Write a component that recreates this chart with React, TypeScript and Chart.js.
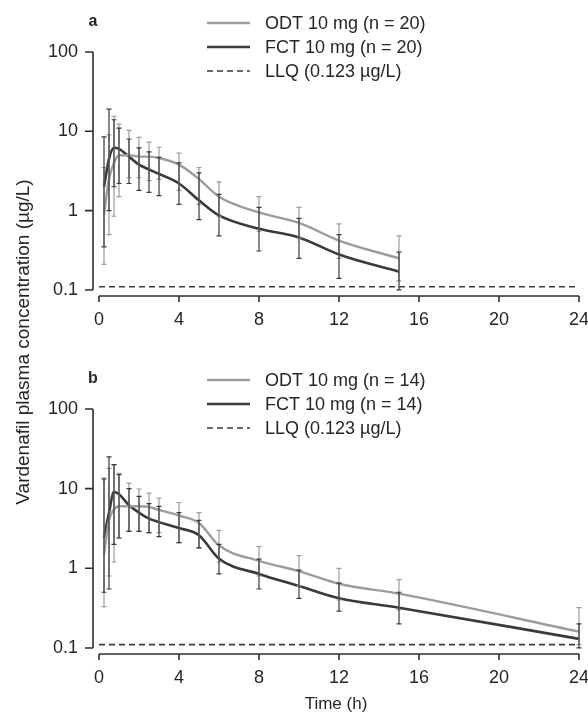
import React, { useEffect, useRef } from "react";
import { Chart, registerables } from "chart.js";

Chart.register(...registerables);

// ---------- data ----------
const X_TICKS = [0, 4, 8, 12, 16, 20, 24];
const Y_TICKS = [0.1, 1, 10, 100];
const LLQ_LEVEL = 0.11;

// Panel a (n = 20)
const TIMES_A = [0.25, 0.5, 0.75, 1, 1.5, 2, 2.5, 3, 4, 5, 6, 8, 10, 12, 15];
const ODT_A_MEAN = [0.9, 2.5, 4.0, 5.0, 5.0, 4.8, 4.8, 4.6, 3.8, 2.5, 1.5, 0.95, 0.7, 0.42, 0.25];
const ODT_A_LO = [0.21, 0.5, 0.85, 1.5, 2.6, 2.6, 2.4, 2.5, 1.8, 1.2, 0.85, 0.55, 0.45, 0.25, 0.13];
const ODT_A_HI = [3.5, 9.0, 15.5, 12.3, 10.3, 8.4, 7.3, 6.3, 5.3, 3.5, 2.3, 1.5, 1.1, 0.68, 0.48];
const FCT_A_MEAN = [2.0, 4.5, 6.2, 6.0, 4.8, 3.8, 3.3, 2.9, 2.2, 1.35, 0.87, 0.59, 0.46, 0.28, 0.17];
const FCT_A_LO = [0.35, 1.0, 2.0, 2.2, 2.2, 1.8, 1.7, 1.55, 1.2, 0.77, 0.48, 0.31, 0.25, 0.14, 0.1];
const FCT_A_HI = [8.5, 19.0, 14.0, 11.0, 8.0, 6.2, 5.5, 4.7, 4.0, 3.0, 1.6, 1.1, 0.8, 0.5, 0.3];

// Panel b (n = 14)
const TIMES_B = [0.25, 0.5, 0.75, 1, 1.5, 2, 2.5, 3, 4, 5, 6, 8, 10, 12, 15, 24];
const ODT_B_MEAN = [1.5, 4.0, 5.5, 6.0, 6.0, 6.0, 5.9, 5.4, 4.6, 3.7, 1.93, 1.24, 0.92, 0.64, 0.48, 0.16];
const ODT_B_LO = [0.33, 0.8, 1.2, 2.4, 2.9, 2.9, 2.8, 2.8, 2.1, 1.8, 1.2, 0.8, 0.6, 0.4, 0.3, 0.11];
const ODT_B_HI = [13.0, 18.0, 20.0, 15.6, 11.7, 9.9, 8.8, 7.6, 6.7, 5.0, 3.0, 1.87, 1.44, 1.0, 0.72, 0.32];
const FCT_B_MEAN = [2.4, 5.0, 9.1, 8.5, 6.2, 5.0, 4.2, 3.8, 3.2, 2.6, 1.32, 0.85, 0.6, 0.42, 0.32, 0.13];
const FCT_B_LO = [0.5, 0.55, 2.0, 2.4, 2.9, 2.9, 2.8, 2.5, 2.1, 1.8, 0.85, 0.55, 0.42, 0.29, 0.2, 0.1];
const FCT_B_HI = [13.5, 25.0, 20.0, 15.0, 10.0, 8.0, 6.5, 6.0, 5.0, 4.0, 2.0, 1.3, 0.95, 0.65, 0.5, 0.2];

const LABELS_A = ["ODT 10 mg (n = 20)", "FCT 10 mg (n = 20)", "LLQ (0.123 µg/L)"];
const LABELS_B = ["ODT 10 mg (n = 14)", "FCT 10 mg (n = 14)", "LLQ (0.123 µg/L)"];

// ---------- styles ----------
const FONT = '"Liberation Sans", Arial, Helvetica, sans-serif';
const LIGHT = "#9c9c9c";
const DARK = "#3a3a3a";
const AXIS = "#2e2e2e";
const TEXT = "#262626";
const Y_MIN = Math.pow(10, -1.076);

Chart.defaults.font.family = FONT;
Chart.defaults.color = TEXT;

const axesPlugin = {
  id: "pkAxes",
  beforeDatasetsDraw(chart: any) {
    const { ctx, chartArea, scales } = chart;
    const x = scales.x;
    const y = scales.y;
    ctx.save();
    ctx.strokeStyle = AXIS;
    ctx.lineWidth = 1.6;
    ctx.beginPath();
    const left = chartArea.left;
    ctx.moveTo(left, y.getPixelForValue(Y_TICKS[0]));
    ctx.lineTo(left, y.getPixelForValue(Y_TICKS[Y_TICKS.length - 1]));
    Y_TICKS.forEach((v) => {
      const py = y.getPixelForValue(v);
      ctx.moveTo(left - 8, py);
      ctx.lineTo(left, py);
    });
    const b = chartArea.bottom;
    ctx.moveTo(x.getPixelForValue(X_TICKS[0]), b);
    ctx.lineTo(x.getPixelForValue(X_TICKS[X_TICKS.length - 1]), b);
    X_TICKS.forEach((v) => {
      const px = x.getPixelForValue(v);
      ctx.moveTo(px, b);
      ctx.lineTo(px, b + 6);
    });
    ctx.stroke();
    ctx.restore();
  },
};

const errorBarPlugin = {
  id: "pkErrorBars",
  afterDatasetsDraw(chart: any) {
    const { ctx, scales } = chart;
    const x = scales.x;
    const y = scales.y;
    ctx.save();
    chart.data.datasets.forEach((ds: any) => {
      if (!ds.errLo) return;
      ctx.strokeStyle = ds.borderColor;
      ctx.lineWidth = 1.2;
      ctx.beginPath();
      ds.times.forEach((t: number, i: number) => {
        const px = x.getPixelForValue(t);
        const yl = y.getPixelForValue(ds.errLo[i]);
        const yh = y.getPixelForValue(ds.errHi[i]);
        ctx.moveTo(px, yl);
        ctx.lineTo(px, yh);
        ctx.moveTo(px - 2.5, yl);
        ctx.lineTo(px + 2.5, yl);
        ctx.moveTo(px - 2.5, yh);
        ctx.lineTo(px + 2.5, yh);
      });
      ctx.stroke();
    });
    ctx.restore();
  },
};

const legendPlugin = {
  id: "pkLegend",
  afterDraw(chart: any) {
    const { ctx } = chart;
    const rows = [23, 47, 71];
    ctx.save();
    chart.data.datasets.forEach((ds: any, i: number) => {
      const yy = rows[i];
      ctx.strokeStyle = ds.borderColor;
      ctx.lineWidth = ds.borderDash && ds.borderDash.length ? 1.4 : ds.borderWidth;
      ctx.setLineDash(ds.borderDash || []);
      ctx.beginPath();
      ctx.moveTo(207, yy);
      ctx.lineTo(250, yy);
      ctx.stroke();
      ctx.setLineDash([]);
      ctx.fillStyle = TEXT;
      ctx.font = `18px ${FONT}`;
      ctx.textAlign = "left";
      ctx.textBaseline = "middle";
      ctx.fillText(ds.label, 265, yy + 1);
    });
    ctx.font = `bold 16px ${FONT}`;
    ctx.textAlign = "center";
    ctx.textBaseline = "middle";
    ctx.fillStyle = TEXT;
    ctx.fillText(chart.options.plugins.panelLetter, chart.chartArea.left, 22);
    ctx.restore();
  },
};

type PanelData = {
  letter: string;
  times: number[];
  odtMean: number[];
  odtLo: number[];
  odtHi: number[];
  fctMean: number[];
  fctLo: number[];
  fctHi: number[];
  labels: string[];
  xHeight: number;
  showXTitle: boolean;
};

const PANEL_A: PanelData = {
  letter: "a",
  times: TIMES_A,
  odtMean: ODT_A_MEAN,
  odtLo: ODT_A_LO,
  odtHi: ODT_A_HI,
  fctMean: FCT_A_MEAN,
  fctLo: FCT_A_LO,
  fctHi: FCT_A_HI,
  labels: LABELS_A,
  xHeight: 61,
  showXTitle: false,
};

const PANEL_B: PanelData = {
  letter: "b",
  times: TIMES_B,
  odtMean: ODT_B_MEAN,
  odtLo: ODT_B_LO,
  odtHi: ODT_B_HI,
  fctMean: FCT_B_MEAN,
  fctLo: FCT_B_LO,
  fctHi: FCT_B_HI,
  labels: LABELS_B,
  xHeight: 60,
  showXTitle: true,
};

function buildConfig(p: PanelData): any {
  const pts = (vals: number[]) => p.times.map((t, i) => ({ x: t, y: vals[i] }));
  return {
    type: "line",
    data: {
      datasets: [
        {
          label: p.labels[0],
          data: pts(p.odtMean),
          borderColor: LIGHT,
          borderWidth: 2.4,
          pointRadius: 0,
          cubicInterpolationMode: "monotone",
          times: p.times,
          errLo: p.odtLo,
          errHi: p.odtHi,
        },
        {
          label: p.labels[1],
          data: pts(p.fctMean),
          borderColor: DARK,
          borderWidth: 2.6,
          pointRadius: 0,
          cubicInterpolationMode: "monotone",
          times: p.times,
          errLo: p.fctLo,
          errHi: p.fctHi,
        },
        {
          label: p.labels[2],
          data: [
            { x: X_TICKS[0], y: LLQ_LEVEL },
            { x: X_TICKS[X_TICKS.length - 1], y: LLQ_LEVEL },
          ],
          borderColor: DARK,
          borderWidth: 1.6,
          borderDash: [6, 4],
          pointRadius: 0,
        },
      ],
    },
    options: {
      animation: false,
      responsive: false,
      devicePixelRatio: 1,
      layout: { padding: { top: 52, right: 9, left: 0, bottom: 0 } },
      plugins: {
        legend: { display: false },
        tooltip: { enabled: false },
        panelLetter: p.letter,
      },
      scales: {
        x: {
          type: "linear",
          min: -0.3,
          max: 24,
          bounds: "data",
          grid: { display: false, drawTicks: false },
          border: { display: false },
          afterBuildTicks: (s: any) => {
            s.ticks = X_TICKS.map((v) => ({ value: v }));
          },
          afterFit: (s: any) => {
            s.height = p.xHeight;
            s.paddingLeft = 0;
            s.paddingRight = 0;
          },
          ticks: {
            padding: 13,
            font: { size: 18 },
            color: TEXT,
            maxRotation: 0,
            autoSkip: false,
            callback: (v: any) => String(v),
          },
          title: {
            display: p.showXTitle,
            text: "Time (h)",
            font: { size: 17, lineHeight: 1.1 },
            color: TEXT,
            padding: { top: 0, bottom: 0 },
          },
        },
        y: {
          type: "logarithmic",
          min: Y_MIN,
          max: 100,
          bounds: "data",
          grid: { display: false, drawTicks: false },
          border: { display: false },
          afterBuildTicks: (s: any) => {
            s.ticks = Y_TICKS.map((v) => ({ value: v }));
          },
          afterFit: (s: any) => {
            s.width = 93;
            s.paddingTop = 0;
            s.paddingBottom = 0;
          },
          ticks: {
            padding: 15,
            font: { size: 18 },
            color: TEXT,
            autoSkip: false,
            callback: (v: any) => String(v),
          },
        },
      },
    },
    plugins: [axesPlugin, errorBarPlugin, legendPlugin],
  };
}

function Panel({ data, top }: { data: PanelData; top: number }) {
  const ref = useRef<HTMLCanvasElement>(null);
  useEffect(() => {
    const chart = new Chart(ref.current as HTMLCanvasElement, buildConfig(data));
    return () => chart.destroy();
  }, []);
  return (
    <canvas
      ref={ref}
      width={588}
      height={357}
      style={{ position: "absolute", left: 0, top, width: 588, height: 357, display: "block" }}
    />
  );
}

export default function App() {
  return (
    <div
      style={{
        position: "absolute",
        left: 0,
        top: 0,
        width: 588,
        height: 714,
        background: "#ffffff",
        overflow: "hidden",
      }}
    >
      <Panel data={PANEL_A} top={0} />
      <Panel data={PANEL_B} top={357} />
      <div
        style={{
          position: "absolute",
          left: 23 - 200,
          top: 342 - 11,
          width: 400,
          height: 22,
          lineHeight: "22px",
          textAlign: "center",
          fontFamily: FONT,
          fontSize: 19,
          color: TEXT,
          transform: "rotate(-90deg)",
          transformOrigin: "50% 50%",
          whiteSpace: "nowrap",
        }}
      >
        Vardenafil plasma concentration (µg/L)
      </div>
    </div>
  );
}
